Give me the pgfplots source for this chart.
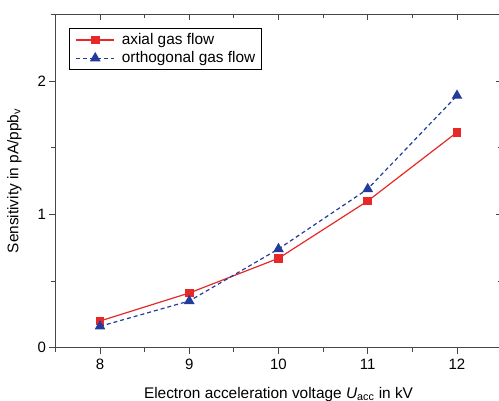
\documentclass[border=0pt]{standalone}
\usepackage{pgfplots}
\pgfplotsset{compat=1.18}
\usepackage{fontspec}
\setmainfont{Liberation Sans}
\definecolor{axred}{RGB}{232,40,40}
\definecolor{orblue}{RGB}{35,60,155}
\definecolor{spine}{RGB}{70,70,70}

\begin{document}
\begin{tikzpicture}
\pgfplotsset{
  common/.style={
    width=446.25bp, height=333.4bp, scale only axis,
    xmin=7.5, xmax=12.5, ymin=0, ymax=2.5,
    xtick={8,9,10,11,12}, ytick={0,1,2},
    minor xtick={7.5,8.5,9.5,10.5,11.5,12.5},
    minor ytick={0.5,1.5,2.5},
    axis line style={spine, line width=0.9bp},
    every tick/.style={spine, line width=0.9bp},
    major tick length=6bp, minor tick length=4bp,
  },
}
\begin{axis}[common, name=ax,
  xtick pos=bottom, ytick pos=left, tick align=outside,
  /pgf/number format/assume math mode=true,
  tick label style={font=\fontsize{15bp}{17bp}\selectfont},
  xticklabel style={yshift=-2bp},
  xlabel={Electron acceleration voltage \textit{U}\textsubscript{acc} in kV},
  ylabel={Sensitivity in pA/ppb\textsubscript{v}},
  label style={font=\fontsize{15.4bp}{17bp}\selectfont},
  xlabel style={at={(axis description cs:0.5,0)}, anchor=base, yshift=-51bp},
  ylabel style={at={(axis description cs:-0.092,0.5)}, anchor=center},
  legend style={at={(0.031,0.958)}, anchor=north west, draw=black, line width=0.8bp,
    font=\fontsize{15.4bp}{17bp}\selectfont, inner xsep=4bp, inner ysep=3bp, row sep=1.5bp},
  legend cell align=left,
  legend image code/.code={
    \path (-2bp,0bp) (43bp,0bp);
    \draw[mark repeat=2, mark phase=2, #1] plot coordinates {(0bp,0bp) (19bp,0bp) (38bp,0bp)};},
]
\addplot[axred, line width=1.2bp, mark=square*, mark size=3.8bp, mark options={solid}] coordinates {
 (8,0.20)(9,0.41)(10,0.67)(11,1.10)(12,1.615)};
\addlegendentry{axial gas flow}
\addplot[orblue, line width=1.2bp, dash pattern=on 4bp off 3bp, mark=triangle*, mark size=5bp, mark options={solid}] coordinates {
 (8,0.16)(9,0.35)(10,0.74)(11,1.19)(12,1.89)};
\addlegendentry{orthogonal gas flow}
\end{axis}
\begin{axis}[common,
  xtick pos=top, ytick pos=right, tick align=inside,
  xticklabels={}, yticklabels={},
]
\end{axis}
\pgfresetboundingbox
\useasboundingbox ([xshift=-55.4bp,yshift=-53.3bp]ax.south west) rectangle ([xshift=-2.6bp,yshift=14.3bp]ax.north east);
\end{tikzpicture}
\end{document}
